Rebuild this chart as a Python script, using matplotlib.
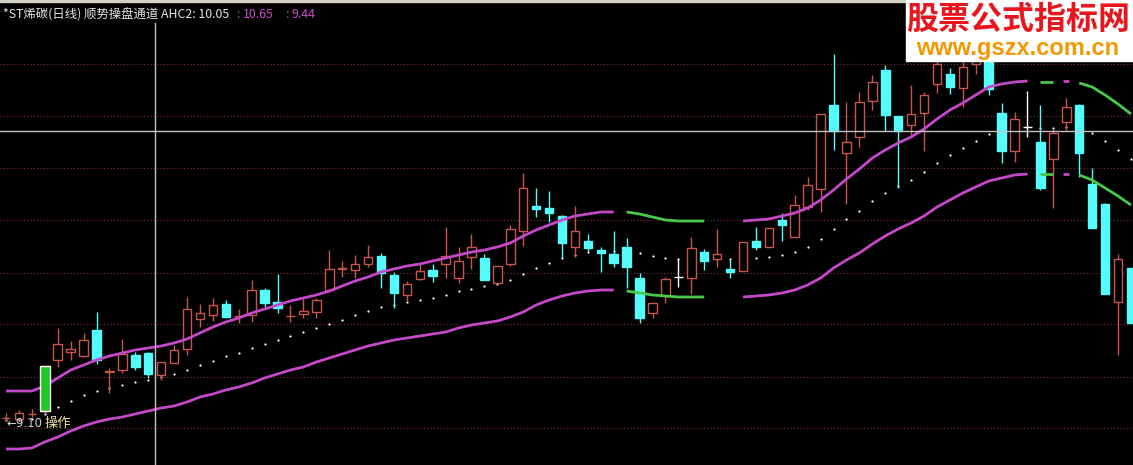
import numpy as np
import matplotlib
matplotlib.use('Agg')
import matplotlib.pyplot as plt
from matplotlib.patches import Rectangle

# --- 기본 설정 ---
plt.rcParams['font.family'] = ['Noto Sans CJK SC', 'DejaVu Sans']

# --- 데이터 ---
opens = [9.18, 9.16, 9.26, 9.32, 10.34, 10.50, 10.42, 10.94, 10.11, 10.14,
         10.44, 10.48, 10.04, 10.28, 10.56, 11.16, 11.24, 11.46, 11.21, 11.24,
         11.74, 11.50, 11.21, 11.26, 11.30, 11.74, 12.17, 12.14, 12.26, 12.42,
         12.04, 11.64, 11.96, 12.14, 12.26, 11.98, 12.40, 12.38, 11.88, 12.26,
         12.92, 13.42, 13.38, 13.22, 12.60, 12.72, 12.54, 12.46, 12.60, 11.98,
         11.28, 11.62, 12.00, 11.98, 12.50, 12.36, 12.16, 12.12, 12.72, 12.60,
         13.14, 12.80, 13.40, 13.76, 15.44, 14.48, 14.80, 15.52, 16.14, 15.22,
         15.04, 15.28, 15.86, 16.06, 15.78, 16.26, 16.44, 15.28, 14.52, 15.00,
         14.70, 14.36, 15.10, 15.44, 13.86, 13.46, 11.50, 12.18]
highs = [9.28, 9.34, 9.36, 10.22, 10.98, 10.72, 10.88, 11.30, 10.18, 10.76,
         10.50, 10.50, 10.30, 10.64, 11.60, 11.46, 11.58, 11.54, 11.36, 11.94,
         11.78, 12.06, 11.44, 11.56, 11.58, 12.54, 12.32, 12.44, 12.64, 12.48,
         12.10, 11.92, 12.28, 12.26, 13.00, 12.60, 12.86, 12.46, 12.22, 13.04,
         14.08, 13.78, 13.72, 13.24, 13.42, 12.86, 12.60, 12.92, 12.78, 12.08,
         11.50, 12.00, 12.36, 12.80, 12.56, 12.96, 12.36, 12.70, 13.00, 12.98,
         13.28, 13.64, 14.00, 15.26, 16.46, 15.50, 15.70, 16.04, 16.24, 15.22,
         15.84, 15.70, 16.34, 16.18, 16.30, 16.54, 16.58, 15.48, 15.30, 15.72,
         15.44, 14.96, 15.58, 15.46, 14.18, 13.48, 12.46, 12.18]
lows = [9.10, 9.14, 9.20, 9.28, 10.20, 10.34, 10.40, 10.26, 9.68, 10.08,
        10.14, 9.98, 9.94, 10.28, 10.44, 11.00, 11.12, 11.18, 11.08, 11.10,
        11.40, 11.28, 11.10, 11.18, 11.18, 11.70, 12.00, 11.98, 12.20, 11.78,
        11.38, 11.52, 11.94, 11.90, 11.98, 11.88, 12.16, 11.94, 11.86, 12.22,
        12.62, 13.20, 13.10, 12.38, 12.40, 12.52, 12.10, 12.20, 11.78, 11.08,
        11.18, 11.48, 11.80, 11.66, 12.14, 12.20, 11.98, 12.12, 12.54, 12.60,
        12.72, 12.80, 13.34, 13.30, 14.54, 13.46, 14.60, 15.34, 14.92, 13.78,
        14.84, 14.52, 15.68, 15.66, 15.40, 16.06, 15.64, 14.28, 14.30, 14.80,
        13.74, 13.38, 14.94, 14.00, 12.98, 11.66, 10.44, 11.08]
closes = [9.19, 9.28, 9.27, 10.22, 10.66, 10.56, 10.74, 10.34, 10.12, 10.46,
          10.20, 10.06, 10.30, 10.54, 11.36, 11.28, 11.44, 11.20, 11.22, 11.74,
          11.48, 11.38, 11.22, 11.32, 11.54, 12.16, 12.18, 12.26, 12.40, 12.08,
          11.68, 11.86, 12.12, 12.02, 12.42, 12.32, 12.60, 11.94, 12.22, 12.96,
          13.78, 13.36, 13.28, 12.68, 12.92, 12.58, 12.48, 12.28, 12.20, 11.18,
          11.48, 11.96, 12.00, 12.58, 12.32, 12.46, 12.10, 12.70, 12.60, 12.98,
          13.04, 13.44, 13.84, 15.26, 14.92, 14.70, 15.50, 15.90, 15.24, 14.92,
          15.26, 15.64, 16.26, 15.80, 16.20, 16.38, 15.76, 14.52, 15.16, 15.00,
          13.78, 14.88, 15.40, 14.48, 12.98, 11.66, 12.36, 11.08]

nan = np.nan
upper = [9.72, 9.72, 9.72, 9.82, 9.98, 10.14, 10.24, 10.34, 10.42, 10.48,
         10.54, 10.58, 10.62, 10.68, 10.76, 10.88, 11.00, 11.10, 11.18, 11.28,
         11.36, 11.44, 11.52, 11.58, 11.64, 11.72, 11.82, 11.92, 12.00, 12.10,
         12.16, 12.22, 12.26, 12.32, 12.38, 12.44, 12.50, 12.54, 12.60, 12.68,
         12.82, 12.94, 13.04, 13.14, 13.22, 13.26, 13.30, 13.30, 13.30, 13.26,
         13.20, 13.14, 13.12, 13.12, 13.12, nan, nan, 13.12, 13.14, 13.16,
         13.22, 13.28, 13.38, 13.54, 13.74, 13.96, 14.16, 14.38, 14.54, 14.68,
         14.80, 14.96, 15.16, 15.34, 15.48, 15.64, 15.80, 15.86, 15.90, 15.92,
         15.90, 15.90, 15.92, 15.88, 15.80, 15.64, 15.46, 15.26]
lower = [8.56, 8.56, 8.58, 8.70, 8.80, 8.92, 9.02, 9.10, 9.16, 9.20,
         9.26, 9.32, 9.38, 9.42, 9.50, 9.60, 9.66, 9.74, 9.80, 9.88,
         9.98, 10.06, 10.14, 10.20, 10.30, 10.38, 10.46, 10.54, 10.62, 10.68,
         10.74, 10.78, 10.82, 10.86, 10.90, 10.98, 11.04, 11.08, 11.12, 11.20,
         11.30, 11.44, 11.54, 11.62, 11.68, 11.72, 11.74, 11.74, 11.72, 11.68,
         11.64, 11.62, 11.60, 11.60, 11.60, nan, nan, 11.60, 11.62, 11.64,
         11.68, 11.74, 11.84, 11.98, 12.18, 12.34, 12.48, 12.66, 12.82, 12.96,
         13.08, 13.22, 13.40, 13.54, 13.68, 13.80, 13.92, 13.98, 14.04, 14.06,
         14.06, 14.06, 14.06, 14.04, 13.94, 13.78, 13.62, 13.44]
middle = [9.14, 9.14, 9.15, 9.26, 9.39, 9.53, 9.63, 9.72, 9.79, 9.84,
          9.90, 9.95, 10.00, 10.05, 10.13, 10.24, 10.33, 10.42, 10.49, 10.58,
          10.67, 10.75, 10.83, 10.89, 10.97, 11.05, 11.14, 11.23, 11.31, 11.39,
          11.45, 11.50, 11.54, 11.59, 11.64, 11.71, 11.77, 11.81, 11.86, 11.94,
          12.06, 12.19, 12.29, 12.38, 12.45, 12.49, 12.52, 12.52, 12.51, 12.47,
          12.42, 12.38, 12.36, 12.36, 12.36, 12.36, 12.36, 12.36, 12.38, 12.40,
          12.45, 12.51, 12.61, 12.76, 12.96, 13.15, 13.32, 13.52, 13.68, 13.82,
          13.94, 14.09, 14.28, 14.44, 14.58, 14.72, 14.86, 14.92, 14.97, 14.99,
          14.98, 14.98, 14.99, 14.96, 14.87, 14.71, 14.54, 14.35]
# 채널 색 상태: m = 상승(자주), g = 하락(초록), - = 표시 없음
band_state = 'm' * 48 + 'g' * 7 + '--' + 'm' * 23 + 'gg' + 'm' + 'g' * 5

grid_levels = [16.25, 15.21, 14.17, 13.13, 12.09, 11.05, 10.01, 8.97]
signal_idx = 3
signal_top, signal_bottom = 10.22, 9.32
cursor_idx, cursor_price = 11.52, 14.92

title_parts = ['*ST烯碳(日线) 顺势操盘通道 AHC2: 10.05', ':', '10.65', ':', '9.44']
title_colors = ['#e6e6e6', '#707070', '#c84ec8', '#707070', '#c84ec8']
title_x = [3, 236, 243, 285, 291]

RED = '#c8554c'
CYAN = '#54fcfc'
MAGENTA = '#c448c8'
GREEN = '#48c848'
BAND_COLORS = {'m': MAGENTA, 'g': GREEN}

W, H = 1133, 465
fig = plt.figure(figsize=(W / 100, H / 100), dpi=100, facecolor='black')
ax = fig.add_axes([0, 0, 1, 1])
ax.set_facecolor('black')
ax.set_xlim(-0.464, 87.16)
ax.set_ylim(8.24, 17.54)
ax.axis('off')

for g in grid_levels:
    ax.axhline(g, color='#7a3434', lw=0.8, ls=(0, (1, 2)), zorder=0)

x = np.arange(len(opens))
o, h, l, c = (np.array(v) for v in (opens, highs, lows, closes))

# 중간선 (점선)
ax.plot(x, middle, ls='none', marker='o', ms=1.6, mec='none', color='white', zorder=1)

# 캔들
colors = np.where(c > o, RED, np.where(c < o, CYAN, 'white'))
face = np.where(c > o, 'black', colors)
body_lo = np.minimum(o, c)
body_hi = np.maximum(o, c)
ax.vlines(x, l, body_lo, colors=colors, lw=1, zorder=3)
ax.vlines(x, body_hi, h, colors=colors, lw=1, zorder=3)
ax.bar(x, body_hi - body_lo, bottom=body_lo, width=0.66, color=face,
       edgecolor=colors, linewidth=1, zorder=4)

# 채널
def draw_band(vals, states):
    vals = np.array(vals, float)
    n = len(vals)
    i = 0
    while i < n:
        s = states[i]
        j = i
        while j + 1 < n and states[j + 1] == s:
            j += 1
        if s in BAND_COLORS:
            if j > i:
                ax.plot(x[i:j + 1], vals[i:j + 1], color=BAND_COLORS[s], lw=2.0,
                        solid_capstyle='butt', zorder=5)
            else:
                ax.plot(x[i], vals[i], marker='_', ms=4, mew=2.0,
                        color=BAND_COLORS[s], zorder=5)
        i = j + 1

draw_band(upper, band_state)
draw_band(lower, band_state)

# 신호 막대
ax.bar(signal_idx, signal_top - signal_bottom, bottom=signal_bottom, width=0.77,
       color='#22c822', edgecolor='white', linewidth=1, zorder=6)
ax.text(0, lows[0] - 0.03, '←%.2f' % min(lows), color='#d0d0d0', fontsize=8.5,
        family=['DejaVu Sans'], va='center', ha='left', zorder=7)
ax.text(signal_idx, lows[0] - 0.03, '操作', color='#f0e4a0', fontsize=9.5,
        va='center', ha='left', zorder=7)

# 십자선
ax.axhline(cursor_price, color='#c4c4c4', lw=1, zorder=6)
ax.axvline(cursor_idx, ymax=1 - 23 / H, color='#c4c4c4', lw=1, zorder=6)

# 상단 바, 제목
fig.patches.append(Rectangle((0, 1 - 2.5 / H), 1, 2.5 / H, transform=fig.transFigure,
                             color='#d4d0c8', zorder=10))
for s, col, tx in zip(title_parts, title_colors, title_x):
    fig.text(tx / W, 1 - 15 / H, s, color=col, fontsize=8.9, va='center', ha='left', zorder=11)

# 워터마크
fig.patches.append(Rectangle((906 / W, 1 - 61 / H), 1 - 906 / W, 61 / H,
                             transform=fig.transFigure, color='white', zorder=10))
fig.text(1018 / W, 1 - 20 / H, '股票公式指标网', color='#e8161e', fontsize=23,
         fontweight='bold', ha='center', va='center', zorder=11)
fig.text(1018 / W, 1 - 49 / H, 'www.gszx.com.cn', color='#f39800', fontsize=17,
         fontweight='bold', family='Liberation Sans', ha='center', va='center', zorder=11)

fig.savefig('out.png', dpi=100, facecolor='black')
